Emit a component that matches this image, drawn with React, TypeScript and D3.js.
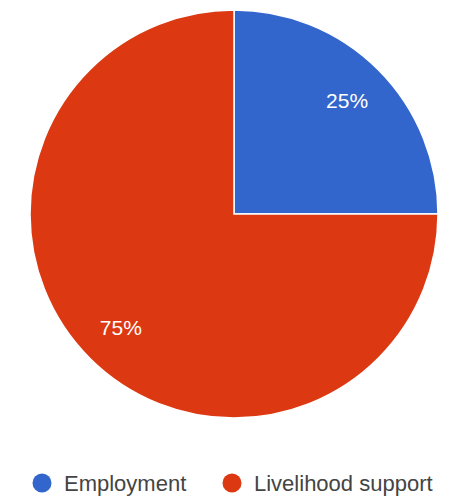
import React from "react";
import * as d3 from "d3";

const categories = ["Employment", "Livelihood support"];
const values = [25, 75];
const colors = ["#3366cc", "#dc3912"];

const W = 467;
const H = 497;
const cx = 234;
const cy = 214;
const R = 204;
const labelR = 160;

export default function App() {
  const pie = d3
    .pie<number>()
    .sort(null)
    .value((d) => d)
    .startAngle(0)
    .endAngle(2 * Math.PI);
  const arcs = pie(values);
  const total = d3.sum(values);
  const arcGen = d3.arc<d3.PieArcDatum<number>>().innerRadius(0).outerRadius(R);
  const labelArc = d3
    .arc<d3.PieArcDatum<number>>()
    .innerRadius(labelR)
    .outerRadius(labelR);

  const legendX = [42, 232];

  return (
    <svg
      width={W}
      height={H}
      style={{ position: "absolute", left: 0, top: 0, background: "#fff" }}
      fontFamily="Arial, 'Liberation Sans', sans-serif"
    >
      <g transform={`translate(${cx},${cy})`}>
        {arcs.map((a, i) => (
          <path
            key={i}
            d={arcGen(a) || ""}
            fill={colors[i]}
            stroke="#fff"
            strokeWidth={1.5}
          />
        ))}
        {arcs.map((a, i) => {
          const [x, y] = labelArc.centroid(a);
          return (
            <text
              key={"l" + i}
              x={x}
              y={y}
              dy="0.36em"
              textAnchor="middle"
              fill="#fff"
              fontSize={21}
            >
              {Math.round((values[i] / total) * 100)}%
            </text>
          );
        })}
      </g>
      {categories.map((c, i) => (
        <g key={c}>
          <circle cx={legendX[i]} cy={483} r={9.5} fill={colors[i]} />
          <text x={legendX[i] + 22} y={490.5} fontSize={22} fill="#444">
            {c}
          </text>
        </g>
      ))}
    </svg>
  );
}
